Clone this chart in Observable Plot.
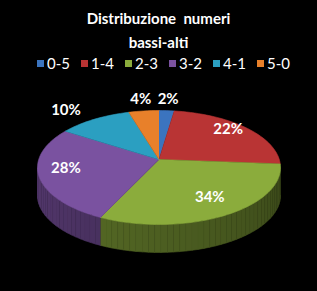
<!DOCTYPE html>
<html><head><meta charset="utf-8">
<script src="https://cdn.jsdelivr.net/npm/d3@7"></script>
<script src="https://cdn.jsdelivr.net/npm/@observablehq/plot@0.6"></script>
<style>
html,body{margin:0;padding:0;background:#000;}
#chart{position:relative;width:317px;height:291px;background:#000;font-family:Lato,"Open Sans",sans-serif;color:#fff;overflow:hidden;}
.title{font-weight:bold;font-size:15px;text-align:center;line-height:24px;padding-top:6px;height:48px;white-space:pre;}
.legend{display:flex;padding-left:37px;height:18px;line-height:18px;font-size:15px;margin-top:0;}
.item{width:44px;display:flex;align-items:center;}
.sw{width:7px;height:7px;margin-right:3px;}
#plot{position:absolute;left:0;top:75px;}
</style></head>
<body>
<div id="chart">
  <div class="title" id="title"></div>
  <div class="legend" id="legend"></div>
  <div id="plot"></div>
</div>
<script>
const titleLines = ["Distribuzione  numeri", "bassi-alti"];
const categories = ["0-5", "1-4", "2-3", "3-2", "4-1", "5-0"];
const values = [2, 22, 34, 28, 10, 4];
const colors = ["#3b74bf", "#b93434", "#8bac3c", "#7a52a0", "#2b9fc1", "#e8802a"];

document.getElementById("title").textContent = titleLines.join("\n");
const leg = document.getElementById("legend");
categories.forEach((c, i) => {
  const it = document.createElement("div"); it.className = "item";
  const sw = document.createElement("div"); sw.className = "sw"; sw.style.background = colors[i];
  const t = document.createElement("span"); t.textContent = c;
  it.appendChild(sw); it.appendChild(t); leg.appendChild(it);
});

const total = d3.sum(values);
let cum = 0;
const slices = categories.map((c, i) => {
  const a0 = cum / total * 2 * Math.PI; cum += values[i];
  const a1 = cum / total * 2 * Math.PI;
  return {c, v: values[i], a0, a1, color: colors[i]};
});
const apex = {x: 0, y: 0.14};
const DEPTH = 0.49;

const topPts = [];
slices.forEach((s, i) => {
  const k = "t" + i;
  topPts.push({k, x: apex.x, y: apex.y, fill: s.color});
  const n = Math.max(2, Math.ceil((s.a1 - s.a0) / (Math.PI / 90)));
  for (let j = 0; j <= n; j++) {
    const a = s.a0 + (s.a1 - s.a0) * j / n;
    topPts.push({k, x: Math.sin(a), y: Math.cos(a), fill: s.color});
  }
});

const wallPts = [];
slices.forEach((s, i) => {
  const lo = Math.max(s.a0, Math.PI / 2), hi = Math.min(s.a1, 1.5 * Math.PI);
  if (hi <= lo) return;
  const n = Math.ceil((hi - lo) / (Math.PI / 60));
  for (let j = 0; j < n; j++) {
    const b0 = lo + (hi - lo) * j / n, b1 = lo + (hi - lo) * (j + 1) / n, mid = (b0 + b1) / 2;
    const m = 0.68 - 0.26 * (1.5 * Math.PI - mid) / Math.PI;
    const c = d3.rgb(s.color);
    const col = d3.rgb(c.r * m, c.g * m, c.b * m).formatHex();
    const k = "w" + i + "_" + j;
    wallPts.push(
      {k, x: Math.sin(b0), y: Math.cos(b0), fill: col},
      {k, x: Math.sin(b1), y: Math.cos(b1), fill: col},
      {k, x: Math.sin(b1), y: Math.cos(b1) - DEPTH, fill: col},
      {k, x: Math.sin(b0), y: Math.cos(b0) - DEPTH, fill: col}
    );
  }
});

const labels = slices.map(s => {
  const m = (s.a0 + s.a1) / 2;
  const outside = s.v / total < 0.12;
  const text = Math.round(s.v / total * 100) + "%";
  if (outside) {
    const sx = Math.sin(m);
    const anchor = Math.abs(sx) < 0.3 ? "middle" : (sx < 0 ? "end" : "start");
    return {text, x: 1.2 * sx, y: 1.2 * Math.cos(m), anchor};
  }
  return {text, x: apex.x + 0.78 * Math.sin(m), y: apex.y + 0.78 * Math.cos(m), anchor: "middle"};
});

const textOpts = {x: "x", y: "y", text: "text", fill: "#fff", fontWeight: "bold", fontSize: 15, fontFamily: "Lato, 'Open Sans', sans-serif"};

const chart = Plot.plot({
  width: 317, height: 216, margin: 0,
  x: {domain: [-1, 1], range: [37, 280], axis: null},
  y: {domain: [-1, 1], range: [149, 35], axis: null},
  color: {type: "identity"},
  style: {background: "#000", color: "#fff"},
  marks: [
    Plot.line(wallPts, {x: "x", y: "y", z: "k", fill: "fill", stroke: "fill", strokeWidth: 0.6}),
    Plot.line(topPts, {x: "x", y: "y", z: "k", fill: "fill", stroke: "fill", strokeWidth: 0.6}),
    Plot.text(labels.filter(d => d.anchor === "middle"), {...textOpts, textAnchor: "middle"}),
    Plot.text(labels.filter(d => d.anchor === "end"), {...textOpts, textAnchor: "end"}),
    Plot.text(labels.filter(d => d.anchor === "start"), {...textOpts, textAnchor: "start"})
  ]
});
document.getElementById("plot").appendChild(chart);
</script>
</body></html>
